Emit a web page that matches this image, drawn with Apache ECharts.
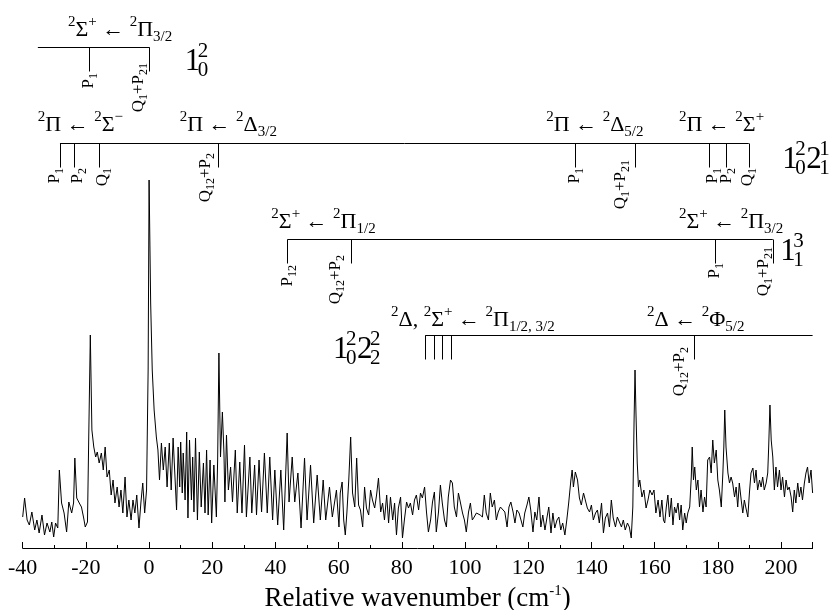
<!DOCTYPE html>
<html><head><meta charset="utf-8">
<script src="https://cdn.jsdelivr.net/npm/echarts/dist/echarts.min.js"></script>
<style>html,body{margin:0;padding:0;background:#fff}#c{width:830px;height:610px}</style>
</head><body><div id="c"></div>
<script>
// ---------------- DATA ----------------
// spectrum, in arbitrary intensity units, split into wavenumber segments
const waveA = [-40.0,-39.4,-38.6,-37.9,-37.1,-36.2,-35.5,-34.8,-33.9,-33.1,
-32.3,-31.4,-30.8,-30.2,-29.6,-28.9,-28.4,-27.7,-26.9,-26.1,
-25.4,-24.5,-23.9,-23.5,-22.9,-22.1,-21.4,-20.7,-20.2,-19.5,
-19.1,-18.6,-18.1,-17.5,-16.9,-16.4,-15.8,-15.1,-14.5,-13.9,
-13.3,-12.6,-12.0,-11.4,-10.8,-10.1,-9.5,-8.9,-8.3,-7.6,
-7.0,-6.4,-5.7,-5.1,-4.5,-3.9,-3.2,-2.6,-2.0,-1.4,
-0.8,-0.3,0.0,0.5,1.0,1.6,2.3,2.8,3.3,3.9,
4.5,5.1,5.7,6.4,7.0,7.6];
const sigA = [31,50,28,23,36,18,28,15,33,13,
25,16,26,11,25,20,78,45,35,16,
46,35,45,90,50,45,41,30,21,26,
111,213,118,101,91,96,85,95,78,101,
71,78,53,68,45,61,41,58,35,71,
31,48,28,48,35,53,20,45,65,35,
58,178,368,245,178,138,111,98,68,105,
78,101,61,105,58,110];
const waveB = [8.7,9.2,9.7,10.0,10.5,10.8,11.4,11.9,12.3,12.8,
13.4,13.8,14.2,14.7,15.3,15.9,16.5,17.2,17.7,18.2,
18.7,19.3,19.8,20.5,21.3,21.7,22.1,22.6,23.2,23.7,
24.0,24.5,25.1,25.8,26.4,27.3,27.9,28.7,29.4,30.2,
30.8,31.9,32.5,33.4,34.0,34.8,35.6,36.5,37.4,38.2,
39.1,39.8,40.7,41.7,42.6,43.7,44.3,45.3,46.1,47.1,
48.1,49.2,50.0,51.1,52.1,53.2,54.2,55.1,55.9,57.1,
58.0,59.3,60.1];
const sigB = [38,101,61,106,55,95,48,116,30,108,
48,91,36,110,28,96,41,85,35,98,
33,88,25,83,31,88,195,91,136,95,
46,113,58,81,46,98,35,86,35,103,
31,91,35,83,33,88,36,95,35,91,
28,78,23,78,18,115,46,91,46,75,
20,90,28,83,25,73,28,68,28,61,
31,58,21];
const waveC = [60.5,61.1,61.6,62.1,62.6,63.2,63.8,64.4,65.1,65.7,
66.3,66.9,67.6,68.2,68.8,69.5,70.1,70.7,71.4,72.0,
72.6,73.3,73.9,74.5,75.2,75.8,76.4,77.1,77.7,78.3,
78.9,79.6,80.2,80.8,81.5,82.1,82.7,83.4,84.0,84.6,
85.3,85.9,86.5,87.2,87.8,88.4,89.1,89.7,90.3,90.9,
91.6,92.2,92.8,93.5,94.1,94.7,95.4,96.0,96.6,97.3,
97.9,98.5,99.2,99.8,100.4,101.1,101.7,102.3,102.9,103.6,
104.2,104.8,105.5,106.1,106.7,107.4,108.0,108.6,109.3,109.9,
110.5,111.2,111.8];
const sigC = [55,66,28,13,35,68,111,55,41,90,
43,38,21,61,40,33,58,48,40,53,
70,36,45,28,53,25,51,28,45,13,
40,51,10,28,46,40,45,33,48,53,
38,55,50,61,36,16,28,46,56,16,
36,63,45,28,21,51,68,65,41,31,
55,46,35,28,16,36,45,28,31,35,
36,33,31,53,35,28,55,41,48,28,
36,41,43];
const waveD = [112.6,113.3,113.9,114.5,115.2,115.8,116.4,117.1,117.7,118.3,
118.9,119.6,120.2,120.8,121.5,122.1,122.7,123.4,124.0,124.6,
125.3,125.9,126.5,127.2,127.8,128.4,129.1,129.7,130.3,130.9,
131.6,132.2,132.8,133.5,133.9,134.3,134.9,135.6,136.2,136.8,
137.5,138.1,138.7,139.4,140.0,140.6,141.3,141.9,142.5,143.2,
143.8,144.4,145.1,145.7,146.3,146.9,147.6,148.2,148.8,149.5,
150.1,150.7,151.4,152.0,152.6,153.1,153.5,153.8,154.1,154.5,
154.9,155.3,156.0,156.6,157.3,157.9,158.5,159.2,159.8,160.4,
161.1,161.7,162.3,162.8];
const sigD = [36,21,41,46,36,25,38,35,28,21,
35,43,51,38,16,36,28,51,21,33,
18,30,41,15,35,20,28,31,18,25,
13,28,45,68,78,61,76,68,50,43,
55,53,40,36,43,28,35,38,25,45,
15,30,35,21,48,30,21,31,33,21,
28,18,25,21,10,41,128,178,135,85,
61,68,51,58,40,48,58,53,58,35,
48,31,48,28];
const waveE = [163.2,163.7,164.2,164.7,165.3,165.8,166.3,166.8,167.4,167.9,
168.4,168.9,169.5,170.0,170.5,171.1,171.6,171.9,172.3,172.7,
173.2,173.7,174.2,174.7,175.3,175.8,176.3,176.8,177.4,177.9,
178.4,178.9,179.5,180.0,180.5,181.1,181.6,181.9,182.2,182.6,
183.2,183.7,184.2,184.7,185.3,185.8,186.3,186.8,187.4,187.9,
188.4,188.9,189.5,190.0,190.5,191.1,191.6,192.1,192.6,193.2,
193.7,194.2,194.7,195.3,195.8,196.1,196.5,196.9,197.4,197.9,
198.4,198.9,199.5,200.0,200.5,201.1,201.6,202.1,202.6,203.2,
203.7,204.2,204.7,205.3,205.8,206.3,206.8,207.4,207.9,208.4,
208.9,209.5,210.0];
const sigE = [25,41,53,31,50,23,41,35,45,28,
43,18,35,25,35,41,71,101,68,81,
58,68,41,58,36,51,41,88,91,75,
108,85,98,68,58,41,75,101,138,101,
75,65,71,65,51,61,41,65,48,35,
48,40,31,55,75,80,65,78,58,68,
61,71,58,65,75,101,143,108,91,58,
81,61,78,58,71,51,68,58,61,51,
36,58,45,65,51,61,48,65,75,81,
65,78,55];

// assignment combs: wavenumbers of the comb teeth, their labels and titles
const comb1Span = [-35.2, 0.2];
const comb1Ticks = [-19.0, 0.2];
const comb1Labels = ['P_{1}', 'Q_{1}+P_{21}'];
const comb2Span = [-28.2, 189.8];
const comb2Ticks = [-28.2, -23.8, -15.8, 22.0, 135.0, 153.8, 177.4, 182.7, 189.8];
const comb2Labels = ['P_{1}','P_{2}','Q_{1}','Q_{12}+P_{2}','P_{1}','Q_{1}+P_{21}','P_{1}','P_{2}','Q_{1}'];
const comb3Span = [43.8, 197.4];
const comb3Ticks = [43.8, 64.0, 179.2, 197.4];
const comb3Labels = ['P_{12}','Q_{12}+P_{2}','P_{1}','Q_{1}+P_{21}'];
const comb4Span = [87.4, 210.0];
const comb4Ticks = [87.4, 90.3, 92.9, 95.7, 172.4];
const comb4Labels = ['','','','','Q_{12}+P_{2}'];

const comb1Titles = ['^{2}Σ^{+} ← ^{2}Π_{3/2}'];
const comb2Titles = ['^{2}Π ← ^{2}Σ^{−}', '^{2}Π ← ^{2}Δ_{3/2}', '^{2}Π ← ^{2}Δ_{5/2}', '^{2}Π ← ^{2}Σ^{+}'];
const comb3Titles = ['^{2}Σ^{+} ← ^{2}Π_{1/2}', '^{2}Σ^{+} ← ^{2}Π_{3/2}'];
const comb4Titles = ['^{2}Δ, ^{2}Σ^{+} ← ^{2}Π_{1/2, 3/2}', '^{2}Δ ← ^{2}Φ_{5/2}'];

// vibrational band labels: [digit, superscript, subscript]
const band1 = [['1','2','0']];
const band2 = [['1','2','0'],['2','1','1']];
const band3 = [['1','3','1']];
const band4 = [['1','2','0'],['2','2','2']];

const xTitle = 'Relative wavenumber (cm{sup|-1})';

// ---------------- LAYOUT (positions in axis units) ----------------
const SERIF = 'Liberation Serif';
const TOOTH = 24;
const combLayout = [
  {span: comb1Span, ticks: comb1Ticks, labels: comb1Labels, level: 500.5,
   labelPos: [[-19.05, 475], [-3.25, 485]],
   titles: comb1Titles, titlePos: [[-25.7, 518]]},
  {span: comb2Span, ticks: comb2Ticks, labels: comb2Labels, level: 404.5,
   labelPos: [[-29.8,380],[-22.5,380],[-14.6,380],[17.9,395],[134.8,380],[149.3,388],[178.4,380],[182.8,380],[189.5,380]],
   titles: comb2Titles, titlePos: [[-35.2,423],[9.7,423],[125.7,423],[167.7,423]]},
  {span: comb3Span, ticks: comb3Ticks, labels: comb3Labels, level: 308.5,
   labelPos: [[43.8,283],[59.0,293],[179.1,285],[194.5,301]],
   titles: comb3Titles, titlePos: [[38.7,326],[167.7,326]]},
  {span: comb4Span, ticks: comb4Ticks, labels: comb4Labels, level: 212.5,
   labelPos: [[0,0],[0,0],[0,0],[0,0],[168.0,201]],
   titles: comb4Titles, titlePos: [[76.6,228],[157.6,228]]}
];
const bandLayout = [
  {groups: band1, pos: [11.3, 486]},
  {groups: band2, pos: [200.4, 388]},
  {groups: band3, pos: [199.8, 296]},
  {groups: band4, pos: [58.2, 198]}
];

// ---------------- CHART ----------------
const wavenumber = [].concat(waveA, waveB, waveC, waveD, waveE);
const signal = [].concat(sigA, sigB, sigC, sigD, sigE);
const spectrum = wavenumber.map((w, i) => [w, signal[i]]);

const combSegments = [];
combLayout.forEach(c => {
  combSegments.push({coords: [[c.span[0], c.level], [c.span[1], c.level]]});
  c.ticks.forEach(t => combSegments.push({coords: [[t, c.level], [t, c.level - TOOTH]]}));
});

function toRich(s) {
  let out = ''; const re = /([\^_])\{([^}]*)\}|([^\^_]+)/g; let m;
  while ((m = re.exec(s))) {
    if (m[1]) out += '{' + (m[1] === '^' ? 'sup' : 'sub') + '|' + m[2] + '}';
    else out += '{n|' + m[3] + '}';
  }
  return out;
}

const chart = echarts.init(document.getElementById('c'));
chart.setOption({
  animation: false,
  backgroundColor: '#fff',
  textStyle: {fontFamily: SERIF},
  grid: {left: 22.7, right: 17.4, top: 0, bottom: 62, containLabel: false, outerBoundsMode: 'none'},
  xAxis: {
    type: 'value', min: -40, max: 210, interval: 20,
    axisLine: {lineStyle: {color: '#000', width: 1}},
    axisTick: {inside: true, length: 6, lineStyle: {color: '#000', width: 1}},
    minorTick: {show: true, splitNumber: 2, length: 3, lineStyle: {color: '#000', width: 1}},
    splitLine: {show: false}, minorSplitLine: {show: false},
    axisLabel: {color: '#000', fontFamily: SERIF, fontSize: 22, margin: 9, showMaxLabel: false},
    name: xTitle, nameLocation: 'middle', nameGap: 32,
    nameTextStyle: {color: '#000', fontFamily: SERIF, fontSize: 27, lineHeight: 30,
      rich: {sup: {fontFamily: SERIF, fontSize: 15, lineHeight: 14, verticalAlign: 'top', color: '#000'}}}
  },
  yAxis: {type: 'value', min: 0, max: 548, show: false},
  series: [
    {type: 'line', data: spectrum, showSymbol: false, symbol: 'none',
     lineStyle: {color: '#000', width: 1}, z: 2},
    {type: 'lines', coordinateSystem: 'cartesian2d', data: combSegments,
     lineStyle: {color: '#000', width: 1, opacity: 1}, z: 3}
  ]
});

const P = (x, y) => chart.convertToPixel({gridIndex: 0}, [x, y]);
const titleRich = {
  n: {fontFamily: SERIF, fontSize: 22, lineHeight: 30, verticalAlign: 'middle', fill: '#000'},
  sup: {fontFamily: SERIF, fontSize: 15, lineHeight: 14, verticalAlign: 'top', fill: '#000'},
  sub: {fontFamily: SERIF, fontSize: 15, lineHeight: 14, verticalAlign: 'bottom', fill: '#000'}
};
const tickRich = {
  n: {fontFamily: SERIF, fontSize: 17, lineHeight: 22, verticalAlign: 'middle', fill: '#000'},
  sub: {fontFamily: SERIF, fontSize: 12, lineHeight: 12, verticalAlign: 'bottom', fill: '#000'},
  sup: {fontFamily: SERIF, fontSize: 12, lineHeight: 12, verticalAlign: 'top', fill: '#000'}
};
function textEl(p, text, extra) {
  return Object.assign({type: 'text', x: p[0], y: p[1], silent: true, z: 10,
    style: Object.assign({text: text, fill: '#000', fontFamily: SERIF}, extra.style)}, extra.el || {});
}
const els = [];
combLayout.forEach(c => {
  c.titles.forEach((t, i) => {
    els.push(textEl(P(c.titlePos[i][0], c.titlePos[i][1]), toRich(t), {style: {
      rich: titleRich, fontSize: 22, align: 'left', verticalAlign: 'middle', textAlign: 'left', textVerticalAlign: 'middle'}}));
  });
  c.labels.forEach((t, i) => {
    if (!t) return;
    els.push(textEl(P(c.labelPos[i][0], c.labelPos[i][1]), toRich(t), {
      el: {rotation: Math.PI / 2},
      style: {rich: tickRich, fontSize: 17, align: 'right', verticalAlign: 'middle', textAlign: 'right', textVerticalAlign: 'middle'}}));
  });
});
bandLayout.forEach(b => {
  const p = P(b.pos[0], b.pos[1]);
  let cx = p[0];
  b.groups.forEach(g => {
    els.push(textEl([cx, p[1]], g[0], {style: {fontSize: 31, align: 'left', verticalAlign: 'middle', textAlign: 'left', textVerticalAlign: 'middle'}}));
    cx += 13;
    els.push(textEl([cx, p[1] - 1], g[1] + '\n' + g[2], {style: {fontSize: 21, lineHeight: 19, align: 'left', verticalAlign: 'middle', textAlign: 'left', textVerticalAlign: 'middle'}}));
    cx += 11;
  });
});
chart.setOption({graphic: {elements: els}});
</script>
</body></html>
